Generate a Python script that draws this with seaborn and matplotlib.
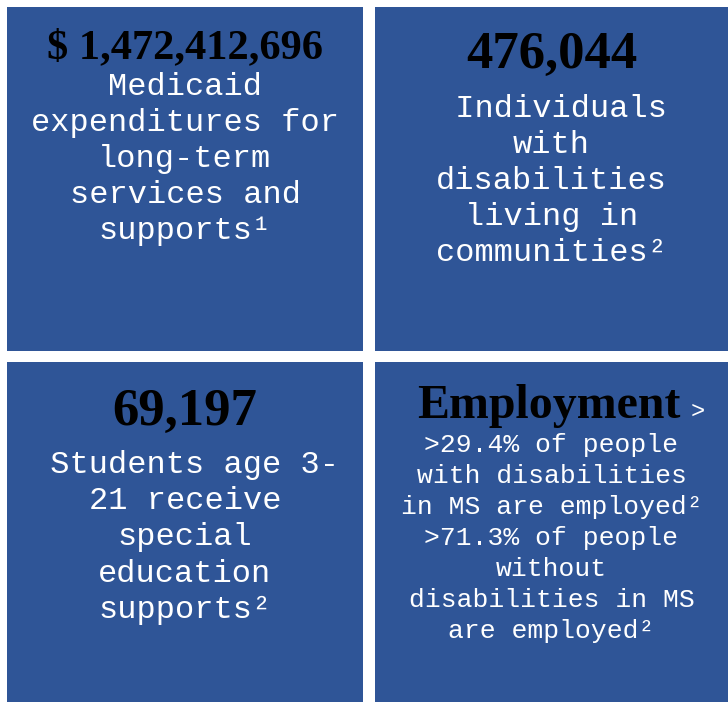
import matplotlib
matplotlib.use("Agg")
import matplotlib.pyplot as plt
import seaborn as sns

# Tile content
headlines = ["$ 1,472,412,696", "476,044", "69,197", "Employment"]
bodies = [
    ["Medicaid", "expenditures for", "long-term", "services and", "supports\u00b9"],
    [" Individuals", "with", "disabilities", "living in", "communities\u00b2"],
    [" Students age 3-", "21 receive", "special", "education", "supports\u00b2"],
    [">29.4% of people", "with disabilities", "in MS are employed\u00b2",
     ">71.3% of people", "without", "disabilities in MS", "are employed\u00b2"],
]

sns.set_theme(style="white")
plt.rcParams["font.family"] = ["Liberation Mono", "DejaVu Sans"]

W, H = 728, 702
fig = plt.figure(figsize=(W / 100, H / 100), dpi=100)
fig.patch.set_facecolor("white")

tile_color = "#2F5597"
# tile boxes in pixels: x0, y0 (top), x1, y1 (bottom)
boxes = [(7, 7, 363, 351), (375, 7, 728, 351), (7, 362, 363, 702), (375, 362, 728, 702)]
# layout: headline size, headline baseline, body size, first body baseline, line step
layout = [
    (30.5, 58, 23, 95, 36),
    (38, 68, 23, 117, 36),
    (38, 425, 23, 473, 36.2),
    (34.5, 418, 19, 452, 31),
]

for i, (x0, y0, x1, y1) in enumerate(boxes):
    ax = fig.add_axes([x0 / W, 1 - y1 / H, (x1 - x0) / W, (y1 - y0) / H])
    ax.set_facecolor(tile_color)
    ax.set_xlim(x0, x1)
    ax.set_ylim(y1, y0)
    ax.set_xticks([])
    ax.set_yticks([])
    for s in ax.spines.values():
        s.set_visible(False)

    hsize, hbase, bsize, bstart, step = layout[i]
    cx = (x0 + x1) / 2
    if i == 3:
        cx = 549
    ax.text(cx, hbase, headlines[i], ha="center", va="baseline",
            fontsize=hsize, fontweight="bold", family=["Liberation Serif"],
            color="black")
    if i == 3:
        ax.text(691, hbase, ">", ha="left", va="baseline", fontsize=17,
                color="white")

    bx = (x0 + x1) / 2
    for j, line in enumerate(bodies[i]):
        ax.text(bx, bstart + j * step, line, ha="center", va="baseline",
                fontsize=bsize, color="white")

fig.savefig("out.png", dpi=100, facecolor="white")
